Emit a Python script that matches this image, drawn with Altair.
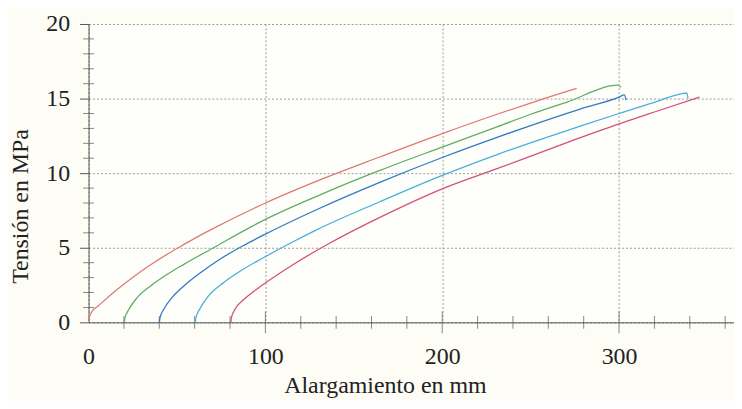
import altair as alt
import pandas as pd

# ---- data ----
red_x = [0, 0.4, 2.3, 5.1, 16.3, 25.7, 35.1, 49.2, 59.5, 69.8, 100, 129.8, 165, 200, 231, 250, 270.5, 276]
red_y = [0.1, 0.33, 0.78, 1.07, 2.22, 3.08, 3.86, 4.9, 5.6, 6.25, 8.0, 9.5, 11.1, 12.65, 13.95, 14.7, 15.48, 15.68]

green_x = [20.2, 20.5, 22.9, 27.6, 35.1, 44.5, 53.9, 70.7, 89.5, 100, 130, 165, 200, 231, 250, 270.5, 299.6, 301]
green_y = [0, 0.27, 0.89, 1.67, 2.44, 3.22, 3.89, 5.0, 6.25, 6.9, 8.5, 10.2, 11.75, 13.1, 13.95, 14.77, 15.9, 15.75]

blue_x = [40.1, 40.3, 42.6, 47.3, 53.9, 63.3, 74.5, 87.6, 98.9, 129.8, 165, 200, 231, 278, 300, 303, 304]
blue_y = [0, 0.27, 0.89, 1.67, 2.44, 3.33, 4.25, 5.15, 5.85, 7.6, 9.4, 11.05, 12.4, 14.3, 15.1, 15.25, 14.9]

cyan_x = [60.4, 60.6, 62.9, 67.9, 76.4, 85.8, 98.9, 114.8, 129.8, 165, 200, 231, 278, 300, 320, 338.4, 339]
cyan_y = [0, 0.27, 0.89, 1.78, 2.67, 3.44, 4.33, 5.35, 6.25, 8.1, 9.85, 11.25, 13.15, 14.0, 14.75, 15.37, 15.0]

crimson_x = [80.5, 80.7, 82.9, 87.6, 93.2, 98.9, 116.7, 135.5, 165, 200, 231, 270.5, 300, 320, 345.5]
crimson_y = [0, 0.27, 0.89, 1.51, 2.05, 2.55, 3.95, 5.25, 7.05, 8.95, 10.3, 12.05, 13.3, 14.1, 15.1]

series_names = ["s0", "s20", "s40", "s60", "s80"]
series_colors = ["#dc7a72", "#62ad62", "#2f7cc4", "#4aaedc", "#d4507a"]

x_minor_ticks = [20, 40, 60, 80, 120, 140, 160, 180, 220, 240, 260, 280, 320, 340, 360]
x_major_ticks = [100, 200, 300]
y_minor_ticks = [1, 2, 3, 4, 6, 7, 8, 9, 11, 12, 13, 14, 16, 17, 18, 19]
x_labels = [0, 100, 200, 300]
y_labels = [0, 5, 10, 15, 20]

rows = []
for name, xs, ys in zip(series_names,
                        [red_x, green_x, blue_x, cyan_x, crimson_x],
                        [red_y, green_y, blue_y, cyan_y, crimson_y]):
    for i, (a, b) in enumerate(zip(xs, ys)):
        rows.append({"serie": name, "x": a, "y": b, "o": i})
df = pd.DataFrame(rows)

FONT = "Liberation Serif, DejaVu Serif, serif"
xscale = alt.Scale(domain=[0, 365], nice=False, zero=False)
yscale = alt.Scale(domain=[0, 20], nice=False, zero=False)

base_x = alt.X("x:Q", scale=xscale,
               axis=alt.Axis(values=x_labels, title="Alargamiento en mm",
                             grid=True, gridDash=[2, 2], gridColor="#9a9a9a",
                             ticks=False, labelPadding=22, labelFlush=False,
                             domainColor="#555555",
                             labelFont=FONT, labelFontSize=24, labelColor="#222222",
                             titleFont=FONT, titleFontSize=24, titleFontWeight="normal",
                             titleColor="#222222", titleX=298, titleY=52))
base_y = alt.Y("y:Q", scale=yscale,
               axis=alt.Axis(values=y_labels, title="Tensión en MPa",
                             grid=True, gridDash=[2, 2], gridColor="#9a9a9a",
                             ticks=True, tickSize=9, tickColor="#555555",
                             labelPadding=10, labelFlush=False, domainColor="#555555",
                             labelFont=FONT, labelFontSize=24, labelColor="#222222",
                             titleFont=FONT, titleFontSize=24, titleFontWeight="normal",
                             titleColor="#222222", titleX=-56, titleY=183))

lines = alt.Chart(df).mark_line(strokeWidth=1.3, interpolate="monotone").encode(
    x=base_x, y=base_y, order="o:Q",
    color=alt.Color("serie:N", scale=alt.Scale(domain=series_names, range=series_colors),
                    legend=None),
)

xmin_df = pd.DataFrame({"x": x_minor_ticks, "y": [0] * len(x_minor_ticks)})
xmaj_df = pd.DataFrame({"x": x_major_ticks, "y": [0] * len(x_major_ticks)})
ymin_df = pd.DataFrame({"x": [0] * len(y_minor_ticks), "y": y_minor_ticks})

xminor = alt.Chart(xmin_df).mark_tick(orient="vertical", size=13, thickness=1,
                                      color="#555555").encode(
    x=alt.X("x:Q", scale=xscale), y=alt.Y("y:Q", scale=yscale))
xmajor = alt.Chart(xmaj_df).mark_tick(orient="vertical", size=22, thickness=1,
                                      color="#555555").encode(
    x=alt.X("x:Q", scale=xscale), y=alt.Y("y:Q", scale=yscale))
yminor = alt.Chart(ymin_df).mark_tick(orient="horizontal", size=11, thickness=1,
                                      color="#555555").encode(
    x=alt.X("x:Q", scale=xscale), y=alt.Y("y:Q", scale=yscale))

chart = alt.layer(xminor, xmajor, yminor, lines).properties(
    width=649, height=300,
    autosize=alt.AutoSizeParams(type="none"),
    padding={"left": 81, "top": 15, "right": 0, "bottom": 78},
    background="#fdfcf5",
).configure(font=FONT).configure_view(stroke=None, fill="#fefefb")

chart.save("out.html", embed_options={"renderer": "svg", "actions": False})
